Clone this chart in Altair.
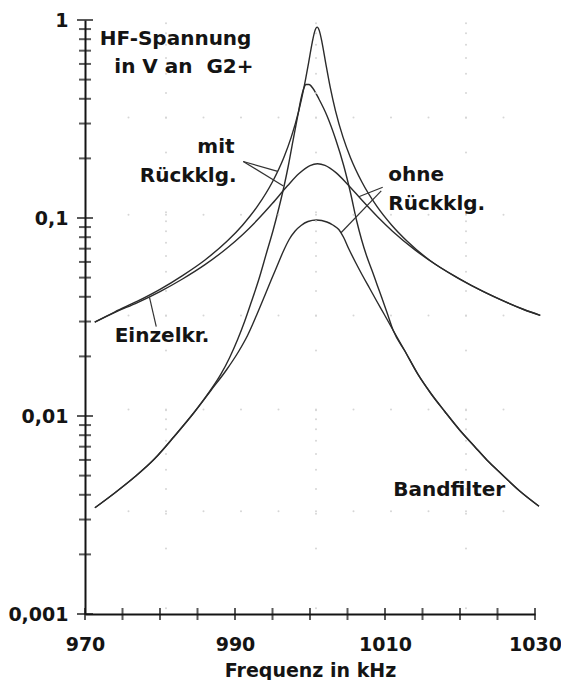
import altair as alt
import pandas as pd

# ---------------- data ----------------
# Einzelkreis mit Rückkopplung
ek_mit_f = [971.3, 974, 977, 980, 983, 986, 989, 991, 993, 995, 996.5, 997.5, 998.5, 999.2, 999.8,
            1000.3, 1000.65, 1000.95, 1001.25, 1001.6, 1002.1, 1002.7, 1003.4, 1004.4, 1005.4,
            1006.9, 1008.9, 1010.9, 1013, 1016, 1020, 1023, 1026, 1028.5, 1030.7]
ek_mit_v = [0.0298, 0.0336, 0.0380, 0.0436, 0.0512, 0.0614, 0.0767, 0.0920, 0.1148, 0.1525, 0.2017,
            0.2561, 0.3477, 0.4564, 0.6037, 0.7713, 0.881, 0.92, 0.881, 0.7713, 0.6037, 0.4564,
            0.3477, 0.2561, 0.2017, 0.1525, 0.1148, 0.0920, 0.0761, 0.0610, 0.0492, 0.0427,
            0.0378, 0.0345, 0.0322]

# Einzelkreis ohne Rückkopplung
ek_ohne_f = [971.3, 974, 977, 980, 983, 986, 989, 991, 993, 995, 997, 998.5, 1000, 1001, 1002,
             1003.5, 1005, 1007, 1009, 1011, 1014, 1017, 1020, 1023, 1026, 1028.5, 1030.7]
ek_ohne_v = [0.0298, 0.0334, 0.0374, 0.0425, 0.0492, 0.0581, 0.0708, 0.0824, 0.0979, 0.1186,
             0.1454, 0.1673, 0.1841, 0.188, 0.1845, 0.169, 0.1482, 0.1221, 0.1015, 0.0858,
             0.069, 0.0574, 0.049, 0.0427, 0.0378, 0.0345, 0.0322]

# Bandfilter mit Rückkopplung
bf_mit_f = [971.32, 973.96, 976.61, 979.25, 981.89, 984.54, 986.52, 988.10, 989.29, 990.35, 991.28,
            992.20, 993.13, 994.18, 995.11, 995.90, 996.56, 997.09, 997.71, 998.35, 998.81, 999.14,
            999.47, 999.87, 1000.40, 1001.19, 1002.25, 1003.43, 1004.49, 1005.42, 1006.21, 1006.87,
            1007.53, 1008.32, 1008.98, 1009.61, 1010.31, 1011.10, 1012.69, 1014.40, 1016.12,
            1017.97, 1019.95, 1021.94, 1023.65, 1025.46, 1027.88, 1030.53]
bf_mit_v = [0.003439, 0.004085, 0.004918, 0.006065, 0.00788, 0.01041, 0.01314, 0.01621, 0.01975,
            0.02434, 0.03001, 0.03787, 0.04833, 0.06617, 0.08747, 0.1143, 0.1459, 0.1820, 0.2434,
            0.3256, 0.4013, 0.4481, 0.4723, 0.4723, 0.4508, 0.3990, 0.3294, 0.2491, 0.1841, 0.1330,
            0.09714, 0.07789, 0.06464, 0.05369, 0.04560, 0.03922, 0.03294, 0.02703, 0.02117,
            0.01621, 0.01299, 0.01054, 0.00850, 0.00702, 0.00596, 0.005125, 0.004205, 0.003502]

# Bandfilter ohne Rückkopplung
bf_ohne_f = [971.32, 973.96, 976.61, 979.25, 981.89, 984.54, 986.78, 988.90, 990.48, 991.67, 992.86,
             993.92, 994.85, 995.64, 996.43, 997.22, 998.02, 998.81, 999.73, 1000.86, 1002.25,
             1003.04, 1003.84, 1004.49, 1005.15, 1006.08, 1007.00, 1007.93, 1008.85, 1009.91,
             1011.10, 1012.69, 1014.40, 1016.12, 1017.97, 1019.95, 1021.94, 1023.65, 1025.46,
             1027.88, 1030.53]
bf_ohne_v = [0.003439, 0.004085, 0.004918, 0.006065, 0.00788, 0.01041, 0.01345, 0.01717, 0.02117,
             0.02550, 0.03218, 0.04013, 0.04890, 0.05755, 0.06773, 0.07789, 0.08598, 0.09165,
             0.09600, 0.09770, 0.09546, 0.09217, 0.08747, 0.07969, 0.07015, 0.05960, 0.05125,
             0.04430, 0.03832, 0.03256, 0.02703, 0.02117, 0.01621, 0.01299, 0.01054, 0.00850,
             0.00702, 0.00596, 0.005125, 0.004205, 0.003502]

# axis ticks / labels
x_label_vals = [970, 990, 1010, 1030]
x_tick_vals = [970, 975, 980, 985, 990, 995, 1000, 1005, 1010, 1015, 1020, 1025, 1030]
y_decades = [0.001, 0.01, 0.1, 1]
y_minor_mult = [2, 3, 4, 5, 6, 7, 8, 9]

# faint dot grid of the original print
dot_cols = [975.8, 980.8, 985.8, 990.8, 995.8, 1000.8, 1005.8, 1010.8, 1015.8, 1020.8, 1025.8]
dot_rows = [0.322, 0.104, 0.0322, 0.0108, 0.0033]
dot_full_cols = [980.8, 1000.8, 1020.8]

# annotations
labels_left = ["HF-Spannung", "ohne", "Rückklg.", "Einzelkr.", "Bandfilter"]
labels_left_f = [971.98, 1010.44, 1010.44, 973.96, 1011.1]
labels_left_v = [0.752, 0.1534, 0.1095, 0.0236, 0.00394]
labels_right = ["in V an\u00a0 G2+", "mit", "Rückklg."]
labels_right_f = [992.47, 989.95, 990.22]
labels_right_v = [0.537, 0.2135, 0.152]

leader_f1 = [979.5, 991.1, 991.1, 1009.7, 1009.5]
leader_v1 = [0.0283, 0.193, 0.193, 0.143, 0.137]
leader_f2 = [978.6, 995.7, 996.45, 1006.5, 1004.1]
leader_v2 = [0.0397, 0.172, 0.145, 0.128, 0.084]

# ---------------- tables ----------------
def curve(name, f, v):
    return pd.DataFrame({"kurve": name, "f": f, "v": v})

curves = pd.concat([
    curve("Einzelkr. mit", ek_mit_f, ek_mit_v),
    curve("Einzelkr. ohne", ek_ohne_f, ek_ohne_v),
    curve("Bandfilter mit", bf_mit_f, bf_mit_v),
    curve("Bandfilter ohne", bf_ohne_f, bf_ohne_v),
], ignore_index=True)

y_major = pd.DataFrame({"f": [970] * len(y_decades), "v": y_decades})
y_minor = pd.DataFrame({"f": 970, "v": [m * d for d in y_decades[:-1] for m in y_minor_mult]})
x_ticks = pd.DataFrame({"f": x_tick_vals, "v": 0.001})

dots = pd.DataFrame(
    [{"f": c, "v": r} for c in dot_cols for r in dot_rows]
    + [{"f": c, "v": m * d * 1.07} for c in dot_full_cols for d in y_decades[:-1] for m in [1] + y_minor_mult]
)

lab_l = pd.DataFrame({"t": labels_left, "f": labels_left_f, "v": labels_left_v})
lab_r = pd.DataFrame({"t": labels_right, "f": labels_right_f, "v": labels_right_v})
leaders = pd.DataFrame({"f": leader_f1, "v": leader_v1, "f2": leader_f2, "v2": leader_v2})

# ---------------- chart ----------------
FONT = "DejaVu Sans"
INK = "#141414"

xs = alt.Scale(domain=[970, 1030], nice=False, zero=False)
ys = alt.Scale(type="log", domain=[0.001, 1], nice=False)

x_axis = alt.Axis(values=x_label_vals, format="d", title="Frequenz in kHz", grid=False,
                  ticks=False, labelFlush=False, labelPadding=21, titlePadding=7, zindex=1)
y_axis = alt.Axis(values=y_decades, labelExpr="replace(format(datum.value, '.3~f'), '.', ',')",
                  title="", grid=False, ticks=False, labelFlush=False, labelPadding=17, zindex=1)


def X():
    return alt.X("f:Q", scale=xs, axis=x_axis)


def Y():
    return alt.Y("v:Q", scale=ys, axis=y_axis)


lines = alt.Chart(curves).mark_line(color="#2b2b2b", strokeWidth=1.4, interpolate="monotone").encode(
    x=X(), y=Y(), detail="kurve:N")

dot_layer = alt.Chart(dots).mark_circle(size=4, color="#d6d6d6", opacity=1).encode(x=X(), y=Y())

ymaj = alt.Chart(y_major).mark_tick(orient="horizontal", color=INK, thickness=2, size=16).encode(x=X(), y=Y())
ymin = alt.Chart(y_minor).mark_tick(orient="horizontal", color=INK, thickness=2, size=12).encode(x=X(), y=Y())
xtk = alt.Chart(x_ticks).mark_tick(orient="vertical", color=INK, thickness=2, size=12).encode(x=X(), y=Y())

lead = alt.Chart(leaders).mark_rule(color="#333333", strokeWidth=1.2).encode(
    x=X(), y=Y(), x2="f2:Q", y2="v2:Q")

txt_l = alt.Chart(lab_l).mark_text(align="left", baseline="alphabetic", font=FONT, fontWeight="bold",
                                   fontSize=20, color=INK).encode(x=X(), y=Y(), text="t:N")
txt_r = alt.Chart(lab_r).mark_text(align="right", baseline="alphabetic", font=FONT, fontWeight="bold",
                                   fontSize=20, color=INK).encode(x=X(), y=Y(), text="t:N")

chart = alt.layer(lines, dot_layer, lead, ymin, ymaj, xtk, txt_l, txt_r).properties(
    width=450, height=594,
    autosize=alt.AutoSizeParams(type="none"),
    padding={"left": 77, "top": 12, "right": 26, "bottom": 66},
    background="white",
).configure_view(stroke=None).configure_axis(
    domainColor=INK, domainWidth=2,
    labelFont=FONT, labelFontWeight="bold", labelFontSize=19, labelColor=INK,
    titleFont=FONT, titleFontWeight="bold", titleFontSize=19, titleColor=INK,
)

chart.save("out.html", embed_options={"renderer": "svg", "actions": False})
